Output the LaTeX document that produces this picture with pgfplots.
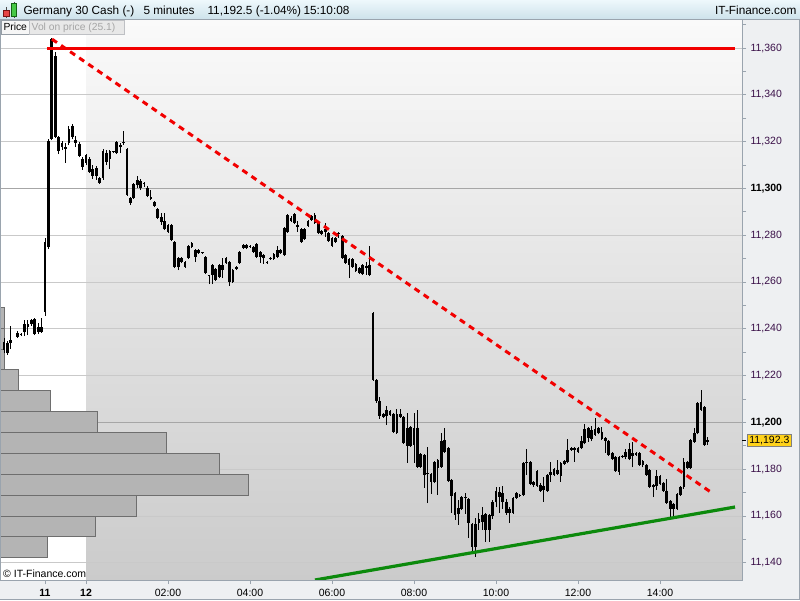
\documentclass[border=0pt]{standalone}
\usepackage{fontspec}
\setmainfont{Liberation Sans}
\usepackage{pgfplots}
\pgfplotsset{compat=1.18}
\usepackage{pgfplotstable}

\definecolor{hdrtop}{HTML}{EEF8FC}
\definecolor{hdrbot}{HTML}{CCE1EA}
\definecolor{panel}{HTML}{EEF0F2}
\definecolor{gridc}{HTML}{C9C9C9}
\definecolor{gridd}{HTML}{A6A6A6}
\definecolor{lblc}{HTML}{3A1048}
\definecolor{framec}{HTML}{9AA4AE}
\definecolor{redl}{HTML}{F20000}
\definecolor{greenl}{HTML}{0C8A0C}
\definecolor{pricebox}{HTML}{FFD21A}
\definecolor{volfill}{HTML}{B4B4B4}
\definecolor{voledge}{HTML}{6E6E6E}

% 5-minute candles, k = minutes/5 from 00:00 on the 12th
\pgfplotstableread{
k open high low close
-24 11234.4 11236.1 11229.6 11230.9
-23 11233.9 11234.8 11228.8 11229.6
-22 11233.9 11241.2 11231.4 11235.2
-20 11236.5 11239.1 11236.1 11238.2
-19 11237.3 11238.0 11236.9 11237.8
-18 11238.6 11243.7 11236.9 11242.0
-17 11242.0 11243.7 11237.3 11240.7
-16 11242.0 11244.1 11241.2 11243.7
-15 11244.1 11244.6 11237.3 11237.7
-14 11238.6 11242.4 11237.7 11240.7
-13 11240.7 11244.6 11238.2 11238.6
-12 11247.2 11278.8 11245.5 11277.1
-11 11274.9 11321.0 11274.0 11320.3
-10 11321.1 11364.3 11320.5 11363.8
-9 11356.6 11358.3 11321.5 11322.0
-8 11322.0 11322.5 11314.7 11315.9
-7 11317.7 11320.3 11316.4 11319.4
-6 11317.7 11319.4 11310.9 11316.8
-5 11319.4 11326.7 11318.5 11325.4
-4 11326.7 11327.5 11321.0 11322.0
-3 11320.7 11322.4 11317.7 11319.4
-2 11318.9 11319.8 11313.3 11313.8
-1 11312.6 11313.4 11307.9 11309.1
0 11310.9 11314.7 11310.0 11314.3
1 11312.6 11313.4 11306.6 11307.0
2 11308.3 11310.0 11304.0 11305.3
3 11305.3 11309.6 11303.6 11308.7
4 11304.4 11305.0 11301.9 11302.3
5 11304.4 11317.0 11303.8 11316.0
6 11315.1 11316.4 11310.0 11311.3
7 11312.6 11316.5 11308.3 11316.0
8 11315.5 11316.2 11315.0 11316.0
9 11315.1 11320.3 11314.7 11319.8
10 11317.7 11319.4 11315.1 11318.5
11 11319.4 11324.5 11318.5 11319.8
12 11316.8 11317.3 11296.8 11297.2
13 11295.9 11296.4 11292.9 11293.7
14 11295.9 11302.4 11295.4 11301.9
15 11301.4 11305.3 11300.2 11303.6
16 11303.2 11304.0 11299.3 11300.2
17 11302.3 11302.8 11300.6 11301.9
18 11300.2 11301.0 11296.3 11296.7
19 11296.3 11299.3 11295.0 11295.5
20 11294.2 11294.6 11292.0 11292.5
21 11291.2 11291.6 11286.9 11287.3
22 11287.8 11289.5 11284.4 11285.6
23 11286.1 11289.5 11282.2 11282.6
24 11284.4 11285.0 11280.9 11281.4
25 11278.0 11285.0 11277.5 11284.4
26 11277.1 11277.6 11265.9 11266.4
27 11266.4 11270.7 11265.1 11270.2
28 11270.2 11270.7 11268.0 11268.5
29 11268.5 11269.0 11266.0 11266.4
30 11270.2 11275.9 11269.8 11275.4
31 11275.0 11277.1 11274.5 11276.7
32 11273.7 11274.1 11268.5 11270.7
33 11272.4 11274.1 11272.0 11273.7
34 11272.4 11273.0 11272.0 11272.9
35 11270.7 11271.1 11263.4 11263.8
36 11262.5 11263.2 11259.1 11263.0
37 11263.0 11267.7 11259.1 11267.3
38 11265.5 11266.0 11260.4 11260.8
39 11262.1 11267.7 11261.7 11267.3
40 11265.1 11270.2 11261.7 11267.3
41 11268.1 11270.7 11267.7 11270.2
42 11268.5 11269.0 11258.3 11260.0
43 11260.0 11265.5 11259.6 11265.1
44 11265.5 11266.8 11265.1 11266.4
45 11268.1 11273.3 11267.7 11272.8
46 11274.5 11276.3 11274.1 11275.8
47 11275.8 11276.3 11274.1 11274.5
48 11275.0 11275.7 11274.6 11275.5
49 11275.0 11275.4 11272.4 11272.8
50 11270.7 11276.7 11270.2 11276.2
51 11272.8 11273.3 11268.1 11270.7
52 11270.2 11272.0 11267.7 11271.5
53 11268.1 11268.8 11267.7 11268.6
54 11269.8 11270.5 11269.4 11270.3
55 11269.8 11272.4 11269.4 11272.0
56 11270.7 11275.4 11270.2 11273.7
57 11273.7 11274.1 11272.0 11272.4
58 11271.5 11283.6 11271.1 11283.1
59 11281.4 11289.1 11281.0 11288.6
60 11287.3 11288.2 11285.6 11286.1
61 11285.2 11289.5 11284.8 11289.0
62 11284.4 11286.1 11281.4 11283.5
63 11282.6 11283.1 11276.7 11277.1
64 11278.4 11283.1 11277.9 11282.6
65 11284.0 11286.5 11283.5 11286.1
66 11286.5 11288.6 11286.1 11288.2
67 11288.6 11289.5 11284.8 11285.2
68 11285.2 11285.6 11280.5 11280.9
69 11281.8 11282.2 11280.0 11280.5
70 11281.4 11285.2 11279.2 11282.6
71 11280.9 11281.4 11277.1 11277.5
72 11278.8 11279.2 11274.9 11275.4
73 11277.1 11279.2 11276.7 11278.8
74 11280.5 11281.4 11278.8 11281.0
75 11279.6 11280.1 11269.8 11270.2
76 11271.5 11271.9 11267.7 11268.1
77 11269.8 11270.2 11261.7 11267.3
78 11266.4 11270.2 11266.0 11269.8
79 11267.7 11268.1 11264.2 11264.7
80 11266.0 11266.4 11263.4 11263.8
81 11263.4 11267.7 11263.0 11267.3
82 11266.0 11268.5 11263.0 11266.8
83 11267.3 11275.4 11262.5 11263.0
84 11246.7 11247.1 11217.7 11218.1
85 11218.1 11218.5 11208.3 11209.2
86 11209.2 11210.9 11201.5 11202.8
87 11202.4 11204.1 11202.0 11203.7
88 11202.8 11207.0 11198.9 11205.4
89 11205.0 11205.4 11202.8 11203.3
90 11203.7 11204.1 11195.6 11196.0
91 11195.5 11205.8 11195.1 11203.7
92 11203.7 11205.8 11202.0 11202.4
93 11202.4 11202.8 11190.8 11191.2
94 11190.0 11204.1 11182.7 11197.7
95 11198.1 11198.5 11189.5 11190.0
96 11190.4 11204.1 11182.7 11197.7
97 11197.7 11205.4 11180.6 11181.0
98 11181.0 11187.0 11180.6 11186.5
99 11186.1 11186.5 11172.0 11177.5
100 11177.9 11189.5 11165.5 11178.4
101 11177.9 11178.4 11169.4 11174.5
102 11174.5 11183.6 11174.0 11183.1
103 11183.9 11184.4 11169.0 11180.5
104 11180.9 11195.5 11180.5 11192.0
105 11192.5 11197.6 11187.0 11187.4
106 11189.0 11189.5 11174.5 11174.9
107 11175.4 11175.8 11161.3 11168.5
108 11169.8 11170.3 11158.3 11160.4
109 11160.8 11166.8 11156.2 11163.4
110 11163.0 11168.5 11162.5 11168.1
111 11167.7 11169.8 11160.8 11168.2
112 11167.3 11167.7 11150.6 11157.0
113 11156.6 11157.0 11144.2 11146.7
114 11146.7 11159.1 11142.5 11156.6
115 11157.0 11161.3 11154.0 11158.7
116 11157.4 11163.6 11154.0 11160.3
117 11160.7 11161.1 11148.9 11154.0
118 11154.0 11160.7 11148.9 11160.3
119 11159.9 11166.8 11158.7 11165.8
120 11165.8 11172.4 11163.6 11170.7
121 11170.3 11172.4 11161.3 11168.1
122 11166.0 11172.8 11163.0 11169.9
123 11166.0 11167.3 11160.4 11161.3
124 11162.9 11163.8 11157.0 11161.2
125 11161.3 11168.1 11160.8 11167.7
126 11167.7 11170.3 11167.3 11169.8
127 11168.5 11169.4 11168.1 11169.0
128 11169.0 11183.1 11168.5 11182.6
129 11182.6 11188.6 11177.5 11183.1
130 11183.1 11183.6 11173.2 11173.7
131 11173.2 11175.0 11172.4 11174.5
132 11179.2 11179.6 11172.4 11172.8
133 11173.2 11174.0 11170.3 11170.8
134 11172.8 11176.8 11166.1 11171.0
135 11170.8 11178.0 11170.3 11177.5
136 11177.5 11183.2 11174.6 11178.9
137 11177.5 11180.4 11177.0 11180.0
138 11179.6 11184.0 11177.5 11177.9
139 11177.1 11183.2 11174.6 11182.8
140 11182.2 11184.0 11181.8 11183.6
141 11183.2 11192.8 11182.5 11188.2
142 11188.2 11189.5 11187.8 11189.0
143 11189.0 11189.4 11183.2 11188.2
144 11187.5 11189.6 11187.0 11189.2
145 11189.0 11194.0 11188.6 11192.2
146 11191.0 11199.3 11190.6 11197.0
147 11197.5 11198.2 11191.8 11193.2
148 11192.8 11198.4 11192.0 11196.7
149 11194.6 11201.7 11194.2 11197.0
150 11197.5 11198.0 11194.9 11195.3
151 11196.0 11198.2 11192.3 11192.8
152 11193.2 11193.9 11187.0 11192.2
153 11192.2 11192.6 11185.7 11186.1
154 11186.8 11187.2 11183.8 11184.2
155 11185.1 11185.5 11178.9 11179.3
156 11185.1 11185.5 11177.5 11178.9
157 11185.1 11186.0 11184.7 11185.6
158 11185.1 11188.5 11184.2 11187.5
159 11184.2 11191.3 11183.8 11188.5
160 11186.8 11191.7 11180.8 11185.6
161 11186.1 11187.2 11185.7 11186.8
162 11186.8 11187.2 11181.4 11181.8
163 11181.8 11184.0 11180.7 11183.6
164 11181.8 11182.2 11177.1 11177.5
165 11179.6 11180.0 11171.9 11172.3
166 11172.3 11173.6 11168.0 11173.2
167 11172.8 11179.6 11171.1 11177.1
168 11177.1 11177.5 11173.3 11173.7
169 11174.2 11174.6 11170.4 11170.8
170 11170.8 11175.9 11165.3 11165.7
171 11166.5 11166.9 11159.4 11162.9
172 11162.9 11165.5 11160.0 11165.1
173 11162.9 11169.8 11162.5 11169.4
174 11169.0 11172.9 11168.6 11172.5
175 11172.5 11184.6 11171.7 11183.2
176 11183.2 11183.6 11180.0 11180.4
177 11180.4 11192.9 11180.0 11192.5
178 11191.7 11197.5 11191.3 11195.3
179 11195.3 11208.8 11194.9 11208.4
180 11208.8 11213.8 11204.9 11205.3
181 11206.4 11206.8 11189.9 11190.3
182 11191.7 11193.9 11190.3 11192.3
}\candles

% volume on price, bar length in pixels of the 742 px plot width
\pgfplotstableread{
p w
11146.6 47.7
11155.5 95.7
11164.4 136.7
11173.4 248.7
11182.3 219.7
11191.2 166.7
11200.1 97.7
11209.0 50.7
11218.0 18.7
11226.9 4.7
11235.8 4.7
11244.7 4.7
}\volprof

\begin{document}
\begin{tikzpicture}
% backgrounds
\fill[panel] (0pt,0pt) rectangle (800pt,600pt);
\fill[white] (0pt,20pt) rectangle (86pt,580pt);
\shade[top color={rgb,255:red,250;green,250;blue,250}, bottom color={rgb,255:red,203;green,203;blue,203}]
  (86pt,20pt) rectangle (742pt,580pt);

% grid + volume profile
\begin{axis}[at={(0pt,20pt)}, anchor=south west, scale only axis,
  width=742pt, height=560pt,
  xmin=0, xmax=742, ymin=11132.6, ymax=11372,
  scaled ticks=false,
  axis line style={draw=none}, tick style={draw=none},
  xtick=\empty,
  ytick={11140,11160,11180,11220,11240,11260,11280,11320,11340,11360},
  yticklabels={},
  extra y ticks={11200,11300}, extra y tick labels={},
  extra y tick style={grid style={gridd, line width=0.9pt}},
  ymajorgrids, grid style={gridc, line width=0.8pt}]
\addplot[xbar, bar width=8.92, bar shift=0pt, fill=volfill, draw=voledge, line width=0.8pt]
  table[x=w, y=p] {\volprof};
\end{axis}

% candles and trend lines
\begin{axis}[at={(0pt,20pt)}, anchor=south west, scale only axis,
  width=742pt, height=560pt,
  xmin=-2.0976, xmax=16, ymin=11132.6, ymax=11372,
  scaled ticks=false,
  axis line style={draw=none},
  tick align=outside, major tick length=4pt, minor tick length=4pt,
  tick style={framec, line width=0.7pt},
  xtick pos=left, ytick pos=right, yticklabel pos=right,
  xtick={-1,0,2,4,6,8,10,12,14},
  xticklabels={\textbf{11},\textbf{12},02:00,04:00,06:00,08:00,10:00,12:00,14:00},
  ytick={11140,11160,11180,11220,11240,11260,11280,11320,11340,11360},
  yticklabels={{11,140},{11,160},{11,180},{11,220},{11,240},{11,260},{11,280},{11,320},{11,340},{11,360}},
  extra y ticks={11200,11300},
  extra y tick labels={{\color{black}\textbf{11,200}},{\color{black}\textbf{11,300}}},
  minor ytick={11130,11150,...,11370},
  ticklabel style={font=\fontsize{10.5}{12}\selectfont},
  yticklabel style={text=lblc, anchor=west, xshift=1pt},
  xticklabel style={text=black, yshift=-2pt}]
% wicks: low to high
\addplot[black, line width=1pt, mark=none, quiver={u=0, v=\thisrow{high}-\thisrow{low}}]
  table[x expr=\thisrow{k}/12, y=low] {\candles};
% bodies: open to close (all candles are drawn filled black)
\addplot[black, line width=2.8pt, mark=none, quiver={u=0, v=\thisrow{close}-\thisrow{open}}]
  table[x expr=\thisrow{k}/12, y=open] {\candles};
\addplot[redl, line width=3pt] coordinates {(-0.951,11360) (15.83,11360)};
\addplot[redl, line width=3pt, dash pattern=on 6pt off 5pt] coordinates {(-0.829,11363.8) (15.27,11169.8)};
\addplot[greenl, line width=3.2pt] coordinates {(5.585,11132.6) (15.83,11163.8)};
\end{axis}

% frame
\draw[framec, line width=0.8pt] (0.4pt,580pt) -- (0.4pt,20pt) -- (742pt,20pt) -- (742pt,580pt);
\draw[framec, line width=0.8pt] (0pt,0.6pt) -- (800pt,0.6pt);
\draw[framec, line width=0.8pt] (799.4pt,0pt) -- (799.4pt,600pt);

% last price
\draw[black, line width=0.8pt] (742pt,159.6pt) -- (746pt,159.6pt);
\node[fill=pricebox, draw=gray, line width=0.6pt, inner xsep=2pt, inner ysep=1.8pt, anchor=west,
  font=\fontsize{10.5}{12}\selectfont] at (747pt,159.6pt) {11,192.3};

% watermark
\node[anchor=base west, font=\fontsize{10.5}{12}\selectfont, inner sep=0pt] at (3pt,23pt) {© IT-Finance.com};

% header bar
\shade[top color=hdrtop, bottom color=hdrbot] (0pt,580pt) rectangle (800pt,600pt);
\draw[framec, line width=0.8pt] (0pt,580.4pt) -- (800pt,580.4pt);
\draw[black!70, line width=0.6pt] (6.2pt,593pt) -- (6.2pt,582pt);
\filldraw[fill={rgb,255:red,230;green,70;blue,70}, draw={rgb,255:red,120;green,20;blue,20}, line width=0.6pt]
  (3.5pt,590pt) rectangle (9pt,583.5pt);
\draw[black!70, line width=0.6pt] (14.2pt,598pt) -- (14.2pt,582pt);
\filldraw[fill={rgb,255:red,70;green,200;blue,70}, draw={rgb,255:red,20;green,100;blue,20}, line width=0.6pt]
  (11.7pt,596.5pt) rectangle (16.7pt,584pt);
\begin{scope}[every node/.style={anchor=base west, inner sep=0pt, font=\fontsize{11.8}{14}\selectfont}]
\node at (23.3pt,585pt) {Germany 30 Cash (-)};
\node at (143.3pt,585pt) {5 minutes};
\node at (207.3pt,585pt) {11,192.5 (-1.04\%)};
\node at (303.3pt,585pt) {15:10:08};
\node[anchor=base east] at (796.7pt,585pt) {IT-Finance.com};
\end{scope}

% panel tabs
\filldraw[fill={rgb,255:red,246;green,246;blue,246}, draw={rgb,255:red,150;green,158;blue,166}, line width=0.6pt]
  (1pt,566pt) rectangle (29.5pt,580pt);
\node[anchor=base west, inner sep=0pt, font=\fontsize{10.3}{12}\selectfont] at (3.3pt,569.5pt) {Price};
\filldraw[fill={rgb,255:red,232;green,232;blue,232}, draw={rgb,255:red,190;green,192;blue,196}, line width=0.6pt]
  (29.5pt,566pt) rectangle (124.5pt,580pt);
\node[anchor=base west, inner sep=0pt, text={rgb,255:red,165;green,165;blue,165}, font=\fontsize{10.3}{12}\selectfont]
  at (31.5pt,569.5pt) {Vol on price (25.1)};

% page is exactly the 800 x 600 chart
\pgfresetboundingbox
\path[use as bounding box] (0pt,0pt) rectangle (800pt,600pt);
\end{tikzpicture}
\end{document}
